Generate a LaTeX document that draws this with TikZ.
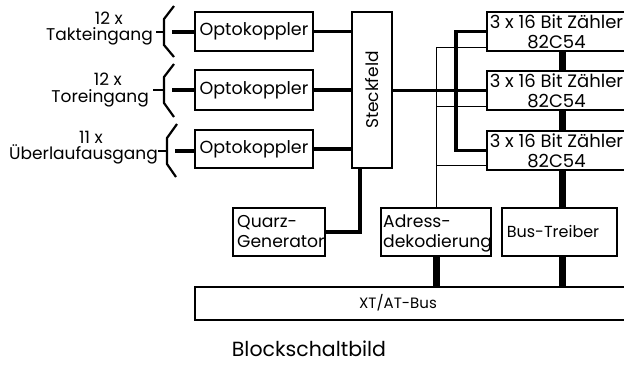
\documentclass[tikz,border=0pt]{standalone}
\usepackage{fontspec}
\setmainfont{Poppins}
\usetikzlibrary{calc}
\tikzset{
  blk/.style={draw, line width=1.2pt, inner sep=0pt, fill=white},
  txt/.style={font=\fontsize{17}{20}\selectfont, inner sep=0pt},
  thickln/.style={line width=3.5pt},
  barln/.style={line width=7pt},
  thinln/.style={line width=0.9pt},
  bracel/.style={line width=2.2pt, line join=miter},
  zfont/.style={inner sep=0pt, font=\fontsize{18}{20}\selectfont, align=center},
}
\begin{document}
\begin{tikzpicture}[x=1pt,y=-1pt]
\clip (0,0) rectangle (624,365);
\fill[white] (0,0) rectangle (624,365);
\coordinate (j) at (456,90);
\coordinate (t) at (436,47);
% boxes
\node[blk, minimum width=118, minimum height=39, font=\fontsize{17.5}{20}\selectfont] (o1) at (254,31.5) {Optokoppler};
\node[blk, minimum width=118, minimum height=40, font=\fontsize{17.5}{20}\selectfont] (o2) at (254,90) {Optokoppler};
\node[blk, minimum width=118, minimum height=38, font=\fontsize{17.5}{20}\selectfont] (o3) at (254,149) {Optokoppler};
\node[blk, minimum width=40, minimum height=156] (st) at (372,90) {};
\node[inner sep=0pt, rotate=90, font=\fontsize{17}{20}\selectfont] (stl) at (st.center) {Steckfeld};
\node[blk, minimum width=150, minimum height=39] (z1) at (562,31.5) {};
\node[blk, minimum width=150, minimum height=39] (z2) at (562,90.5) {};
\node[blk, minimum width=150, minimum height=39] (z3) at (562,150.5) {};
\node[zfont] (z1l) at (556.5,31.5) {3 x 16 Bit Zähler\\82C54};
\node[zfont] (z2l) at (556.5,90.5) {3 x 16 Bit Zähler\\82C54};
\node[zfont] (z3l) at (556.5,150.5) {3 x 16 Bit Zähler\\82C54};
\node[blk, minimum width=92, minimum height=48] (qz) at (279,232) {};
\node[inner sep=0pt, anchor=base west, align=left, font=\fontsize{17.2}{20}\selectfont] (qzl) at (237,247) {Quarz-\\Generator};
\node[blk, minimum width=110, minimum height=48] (ad) at (436,232) {};
\node[inner sep=0pt, anchor=base west, align=left, font=\fontsize{17.2}{20}\selectfont] (adl) at (383,247) {Adress-\\dekodierung};
\node[blk, minimum width=115, minimum height=48] (bt) at (559.5,232) {};
\node[inner sep=0pt, font=\fontsize{16}{18}\selectfont] (btl) at (553,231) {Bus-Treiber};
\node[blk, minimum width=445, minimum height=33] (bus) at (417.5,303.5) {};
\node[inner sep=0pt, font=\fontsize{15}{17}\selectfont] (busl) at (398,303) {XT/AT-Bus};
% labels
\node[txt, anchor=base east] (l1a) at (123,24) {12 x};
\node[txt, anchor=base east] (l1b) at (153,40) {Takteingang};
\node[txt, anchor=base east] (l2a) at (122,85) {12 x};
\node[txt, anchor=base east] (l2b) at (149,102) {Toreingang};
\node[txt, anchor=base east] (l3a) at (103,143) {11 x};
\node[txt, anchor=base east] (l3b) at (158,159) {Überlaufausgang};
\node[font=\fontsize{20.5}{24}\selectfont, inner sep=0pt] (title) at (309,349) {Blockschaltbild};
% braces
\draw[bracel] (174,6) -- (164,19) -- (164,45) -- (174,57);
\draw[bracel] (174,64) -- (164,77) -- (164,103) -- (174,117);
\draw[bracel] (177,124) -- (167,138) -- (167,164) -- (176,177);
\coordinate (b1) at (156,32); \coordinate (b1e) at (164,32);
\coordinate (b2) at (153,90); \coordinate (b2e) at (164,90);
\coordinate (b3) at (158,151); \coordinate (b3e) at (167,151);
\draw[bracel] (b1) -- (b1e);
\draw[bracel] (b2) -- (b2e);
\draw[bracel] (b3) -- (b3e);
\coordinate (c1) at (172,32);
\coordinate (c2) at (172,90);
\coordinate (c3) at (175,151);
\draw[thickln] (c1) -- (c1 -| o1.west);
\draw[thickln] (c2) -- (c2 -| o2.west);
\draw[thickln] (c3) -- (c3 -| o3.west);
% opto to steckfeld
\draw[thickln] (o1.east) -- (o1.east -| st.west);
\draw[thickln] (o2.east) -- (o2.east -| st.west);
\draw[thickln] (o3.east) -- (o3.east -| st.west);
% steckfeld to counters
\draw[thickln] (st.east |- z2.west) -- (z2.west);
\draw[thickln] (z1.west) -| (j) |- (z3.west);
% thin address lines
\draw[thinln] (t) -- (ad.north);
\draw[thinln] (t) -- (t -| z1.west);
\coordinate (t2) at (436,106);
\coordinate (t3) at (436,165.5);
\draw[thinln] (t2) -- (t2 -| z2.west);
\draw[thinln] (t3) -- (t3 -| z3.west);
% counter chain
\draw[barln] (z1.south) -- (z2.north);
\draw[barln] (z2.south) -- (z3.north);
\draw[barln] (z3.south) -- (z3.south |- bt.north);
\draw[barln] (z3.south |- bt.south) -- (z3.south |- bus.north);
\draw[barln] (ad.south) -- (ad.south |- bus.north);
% quarz
\coordinate (q) at (360,168);
\draw[thickln] (q) |- (qz.east);
% redraw box borders on top
\foreach \n in {o1,o2,o3,st,z1,z2,z3,qz,ad,bt,bus} \draw[line width=1.2pt] (\n.north west) rectangle (\n.south east);
\end{tikzpicture}
\end{document}
